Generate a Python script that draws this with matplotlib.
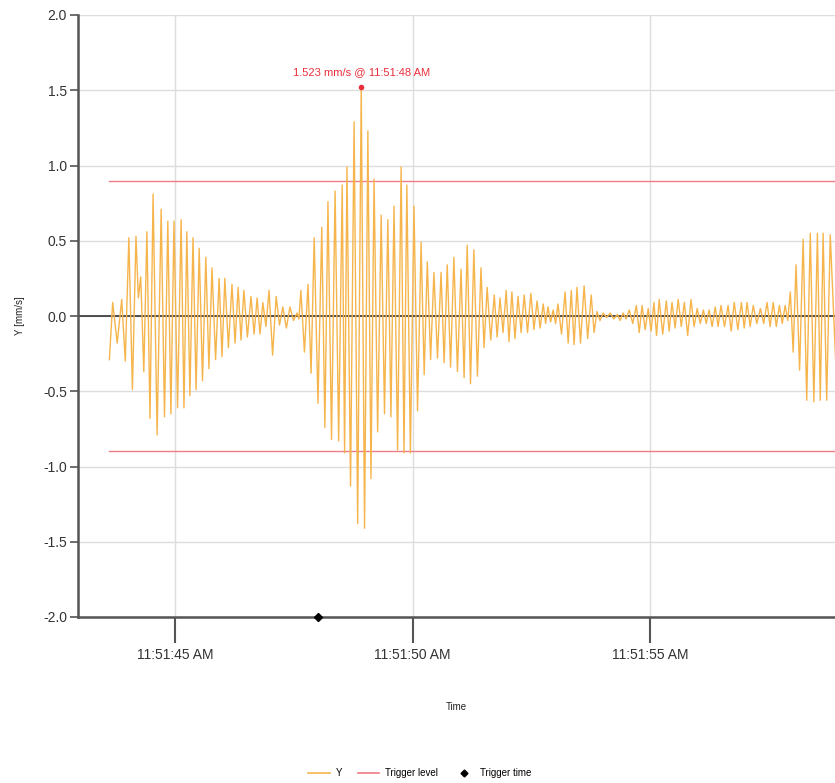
import matplotlib
matplotlib.use('Agg')
import matplotlib.pyplot as plt
import matplotlib.dates as mdates
from matplotlib.lines import Line2D
import pandas as pd

plt.rcParams['font.family'] = ['Liberation Sans', 'DejaVu Sans']

# Start of the minute, all times below are seconds after it
kBaseTime = '2016-01-01 11:51:00'

# Positive peaks of the Y channel: seconds, mm/s
peakTimes = [43.69, 43.88, 44.03, 44.18, 44.28, 44.41, 44.54, 44.71, 44.85, 44.98,
             45.13, 45.25, 45.38, 45.51, 45.65, 45.78, 45.93, 46.05, 46.20, 46.33,
             46.45, 46.60, 46.73, 46.85, 46.98, 47.13, 47.27, 47.42, 47.57, 47.65,
             47.80, 47.93, 48.09, 48.22, 48.37, 48.52, 48.62, 48.77, 48.92, 49.06,
             49.19, 49.34, 49.48, 49.61, 49.76, 49.88, 50.03, 50.18, 50.31, 50.45,
             50.60, 50.73, 50.87, 51.02, 51.15, 51.29, 51.44, 51.57, 51.72, 51.84,
             51.97, 52.09, 52.22, 52.35, 52.49, 52.62, 52.75, 52.85, 52.96, 53.06,
             53.21, 53.34, 53.46, 53.61, 53.76, 53.88, 54.01, 54.16, 54.31, 54.43,
             54.56, 54.71, 54.83, 54.96, 55.08, 55.19, 55.34, 55.46, 55.59, 55.72,
             55.86, 55.99, 56.12, 56.24, 56.37, 56.49, 56.64, 56.77, 56.92, 57.04,
             57.17, 57.32, 57.46, 57.59, 57.72, 57.84, 57.95, 58.07, 58.22, 58.37,
             58.52, 58.64, 58.79]
peakValues = [0.09, 0.11, 0.52, 0.53, 0.26, 0.56, 0.81, 0.71, 0.63, 0.63,
              0.64, 0.56, 0.52, 0.45, 0.39, 0.32, 0.25, 0.25, 0.21, 0.19,
              0.17, 0.13, 0.12, 0.09, 0.17, 0.13, 0.06, 0.06, 0.02, 0.17,
              0.21, 0.52, 0.59, 0.76, 0.83, 0.87, 0.99, 1.29, 1.523, 1.23,
              0.91, 0.67, 0.64, 0.73, 0.99, 0.87, 0.73, 0.49, 0.36, 0.29,
              0.29, 0.34, 0.39, 0.31, 0.47, 0.44, 0.32, 0.19, 0.14, 0.12,
              0.17, 0.16, 0.13, 0.14, 0.15, 0.10, 0.08, 0.06, 0.04, 0.08,
              0.16, 0.17, 0.19, 0.20, 0.14, 0.03, 0.02, 0.02, 0.01, 0.02,
              0.04, 0.07, 0.07, 0.05, 0.09, 0.11, 0.10, 0.09, 0.11, 0.09,
              0.11, 0.05, 0.04, 0.04, 0.06, 0.07, 0.07, 0.09, 0.09, 0.09,
              0.07, 0.05, 0.09, 0.09, 0.07, 0.07, 0.16, 0.34, 0.51, 0.55,
              0.55, 0.55, 0.54]

# Negative peaks, one between each pair of positive peaks
troughValues = [-0.18, -0.30, -0.49, 0.12, -0.37, -0.68, -0.79, -0.67, -0.65, -0.61,
                -0.61, -0.53, -0.49, -0.43, -0.35, -0.29, -0.27, -0.21, -0.18, -0.16,
                -0.14, -0.12, -0.12, -0.07, -0.26, -0.06, -0.08, -0.03, -0.02, -0.24,
                -0.38, -0.58, -0.74, -0.82, -0.83, -0.91, -1.13, -1.38, -1.41, -1.08,
                -0.77, -0.65, -0.67, -0.89, -0.91, -0.91, -0.63, -0.39, -0.29, -0.28,
                -0.31, -0.34, -0.37, -0.41, -0.45, -0.40, -0.21, -0.16, -0.14, -0.11,
                -0.17, -0.15, -0.11, -0.11, -0.09, -0.08, -0.05, -0.04, -0.05, -0.12,
                -0.18, -0.19, -0.18, -0.15, -0.11, -0.03, -0.01, -0.02, -0.03, -0.02,
                -0.05, -0.11, -0.09, -0.10, -0.13, -0.12, -0.10, -0.08, -0.07, -0.13,
                -0.07, -0.05, -0.05, -0.07, -0.07, -0.07, -0.10, -0.09, -0.08, -0.07,
                -0.05, -0.05, -0.07, -0.07, -0.05, -0.03, -0.24, -0.36, -0.56, -0.57,
                -0.56, -0.56]
firstSample = (43.62, -0.29)
lastSample = (58.93, -0.49)

triggerLevel = 0.9
triggerTime = 48.01
viewStart, viewEnd = 42.96, 58.89

colorY = '#f6b54c'
colorTrigger = '#ef7d86'
colorPeak = '#e8303c'


def buildSeries():
    times = [firstSample[0]]
    values = [firstSample[1]]
    for i in range(len(peakTimes)):
        times.append(peakTimes[i])
        values.append(peakValues[i])
        if i < len(troughValues):
            times.append((peakTimes[i] + peakTimes[i + 1]) / 2)
            values.append(troughValues[i])
    times.append(lastSample[0])
    values.append(lastSample[1])
    return times, values


def toStamp(seconds):
    return pd.Timestamp(kBaseTime) + pd.to_timedelta(seconds, unit='s')


def main():
    times, values = buildSeries()
    stamps = toStamp(pd.Series(times))

    fig = plt.figure(figsize=(8.35, 7.83), dpi=100)
    ax = fig.add_axes([78 / 835, 1 - 617 / 783, 757 / 835, 602 / 783])

    ax.plot(stamps, values, color=colorY, linewidth=1.0, zorder=3)

    # trigger levels span the recorded data
    for level in (triggerLevel, -triggerLevel):
        ax.plot([stamps.iloc[0], stamps.iloc[-1]], [level, level],
                color=colorTrigger, linewidth=1.0, zorder=2)

    ax.axhline(0, color='#333333', linewidth=1.2, zorder=2.5)

    # peak marker and label
    iPeak = max(range(len(values)), key=lambda k: values[k])
    ax.plot(stamps.iloc[iPeak], values[iPeak], 'o', color=colorPeak,
            markersize=3, zorder=4)
    label = '%.3f mm/s @ %s' % (values[iPeak],
                                stamps.iloc[iPeak].strftime('%I:%M:%S %p'))
    ax.annotate(label, (stamps.iloc[iPeak], values[iPeak]), xytext=(0, 7),
                textcoords='offset points', ha='center', va='bottom',
                color=colorPeak, fontsize=8)

    ax.plot(toStamp(triggerTime), -2.0, 'D', color='black', markersize=4,
            clip_on=False, zorder=5)

    ax.set_xlim(toStamp(viewStart), toStamp(viewEnd))
    ax.set_ylim(-2.0, 2.0)
    ax.set_yticks([-2.0, -1.5, -1.0, -0.5, 0.0, 0.5, 1.0, 1.5, 2.0])
    ax.yaxis.set_major_formatter(plt.FormatStrFormatter('%.1f'))
    ax.xaxis.set_major_locator(mdates.SecondLocator(bysecond=[0, 5, 10, 15, 20, 25,
                                                              30, 35, 40, 45, 50, 55]))
    ax.xaxis.set_major_formatter(mdates.DateFormatter('%I:%M:%S %p'))

    ax.grid(True, color='#dddddd', linewidth=1.0, zorder=0)
    ax.set_axisbelow(True)
    for side in ('top', 'right'):
        ax.spines[side].set_visible(False)
    for side in ('left', 'bottom'):
        ax.spines[side].set_color('#555555')
        ax.spines[side].set_linewidth(1.8)
    ax.tick_params(axis='y', length=6, width=1.2, color='#555555',
                   labelsize=10, labelcolor='#333333', pad=2)
    ax.tick_params(axis='x', length=19, width=1.5, color='#555555',
                   labelsize=10, labelcolor='#333333', pad=3)

    ax.set_ylabel('Y [mm/s]', fontsize=7, color='#222222', labelpad=13)
    ax.set_xlabel('Time', fontsize=7, color='#222222', labelpad=29)

    handles = [Line2D([], [], color=colorY, linewidth=1.2),
               Line2D([], [], color=colorTrigger, linewidth=1.2),
               Line2D([], [], color='black', marker='D', markersize=3.5, linestyle='none')]
    fig.legend(handles, ['Y', 'Trigger level', 'Trigger time'], loc='center',
               bbox_to_anchor=(0.503, 1 - 773 / 783), ncol=3, frameon=False,
               fontsize=7, handlelength=2.2, columnspacing=1.6, handletextpad=0.6)

    fig.savefig('out.png', dpi=100)


if __name__ == "__main__":
    main()
